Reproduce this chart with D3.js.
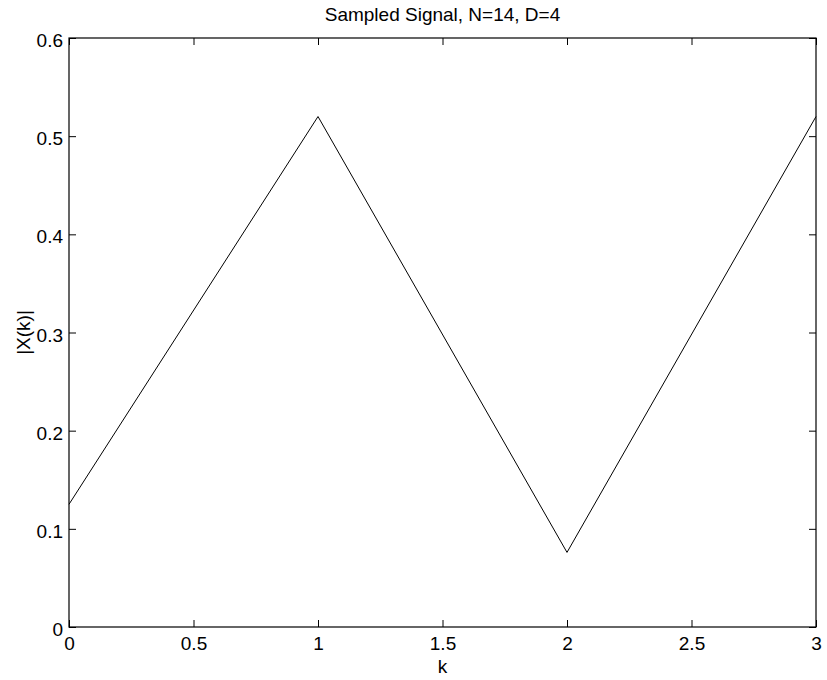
<!DOCTYPE html>
<html>
<head>
<meta charset="utf-8">
<script src="https://cdn.jsdelivr.net/npm/d3@7"></script>
<style>
  body { margin: 0; background: #fff; }
  svg text { font-family: "Liberation Sans", Arial, sans-serif; }
</style>
</head>
<body>
<div id="chart"></div>
<script>
// values
var kValues = [0, 1, 2, 3];
var magValues = [0.125, 0.52, 0.076, 0.52];
var xTicks = [0, 0.5, 1, 1.5, 2, 2.5, 3];
var yTicks = [0, 0.1, 0.2, 0.3, 0.4, 0.5, 0.6];

var W = 827, H = 680;
var margin = {top: 38, right: 11, bottom: 53, left: 69};
var width = W - margin.left - margin.right,
    height = H - margin.top - margin.bottom;

var svg = d3.select("#chart")
  .append("svg")
    .attr("width", W)
    .attr("height", H);

var g = svg.append("g")
    .attr("transform", "translate(" + margin.left + "," + margin.top + ")");

var x = d3.scaleLinear().domain([0, 3]).range([0, width]);
var y = d3.scaleLinear().domain([0, 0.6]).range([height, 0]);

var fmt = function(d) { return d3.format("")(d); };

// bottom axis, ticks pointing in
var xa = g.append("g")
    .attr("transform", "translate(0," + height + ")")
    .call(d3.axisBottom(x).tickValues(xTicks).tickSizeInner(-7).tickSizeOuter(0).tickPadding(10).tickFormat(fmt));
// top ticks only
var xt = g.append("g")
    .call(d3.axisTop(x).tickValues(xTicks).tickSizeInner(-7).tickSizeOuter(0).tickFormat(""));
// left axis
var ya = g.append("g")
    .call(d3.axisLeft(y).tickValues(yTicks).tickSizeInner(-7).tickSizeOuter(0).tickPadding(6).tickFormat(fmt));
// right ticks only
var yt = g.append("g")
    .attr("transform", "translate(" + width + ",0)")
    .call(d3.axisRight(y).tickValues(yTicks).tickSizeInner(-7).tickSizeOuter(0).tickFormat(""));

[xa, xt, ya, yt].forEach(function(a) {
  a.select(".domain").remove();
  a.selectAll(".tick line").attr("stroke", "#000").attr("stroke-width", 1);
  a.selectAll(".tick text").attr("fill", "#000").style("font-size", "19px");
});
ya.selectAll(".tick text").attr("dy", "0.45em");

// box
g.append("rect")
    .attr("x", 0).attr("y", 0)
    .attr("width", width).attr("height", height)
    .attr("fill", "none")
    .attr("stroke", "#000")
    .attr("stroke-width", 1.2);

// data line
var line = d3.line()
    .x(function(d, i) { return x(kValues[i]); })
    .y(function(d) { return y(d); });

g.append("path")
    .datum(magValues)
    .attr("d", line)
    .attr("fill", "none")
    .attr("stroke", "#000")
    .attr("stroke-width", 1);

// title and labels
svg.append("text")
    .attr("x", margin.left + width / 2)
    .attr("y", 21)
    .attr("text-anchor", "middle")
    .style("font-size", "19px")
    .text("Sampled Signal, N=14, D=4");

svg.append("text")
    .attr("x", margin.left + width / 2)
    .attr("y", 673)
    .attr("text-anchor", "middle")
    .style("font-size", "19px")
    .text("k");

svg.append("text")
    .attr("transform", "translate(30," + (margin.top + height / 2) + ") rotate(-90)")
    .attr("text-anchor", "middle")
    .style("font-size", "19px")
    .text("|X(k)|");
</script>
</body>
</html>
